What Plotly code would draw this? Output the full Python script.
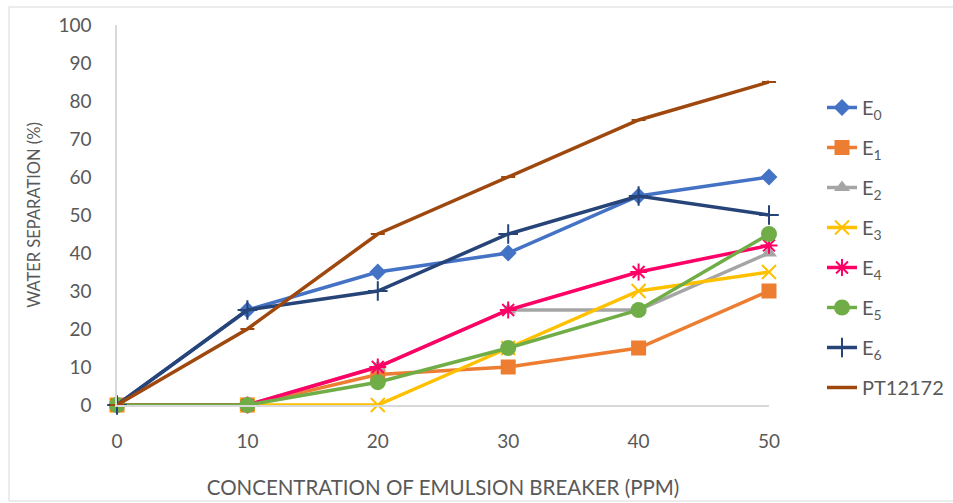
import plotly.graph_objects as go

conc = [0, 10, 20, 30, 40, 50]
names = ["E<sub>0</sub>", "E<sub>1</sub>", "E<sub>2</sub>", "E<sub>3</sub>", "E<sub>4</sub>",
         "E<sub>5</sub>", "E<sub>6</sub>", "PT12172"]
E0 = [0, 25, 35, 40, 55, 60]
E1 = [0, 0, 8, 10, 15, 30]
E2 = [0, 0, 10, 25, 25, 40]
E3 = [0, 0, 0, 15, 30, 35]
E4 = [0, 0, 10, 25, 35, 42]
E5 = [0, 0, 6, 15, 25, 45]
E6 = [0, 25, 30, 45, 55, 50]
PT = [0, 20, 45, 60, 75, 85]
series = [E0, E1, E2, E3, E4, E5, E6, PT]
x_ticks = [0, 10, 20, 30, 40, 50]
y_ticks = [0, 10, 20, 30, 40, 50, 60, 70, 80, 90, 100]

colors = ["#4472C4", "#ED7D31", "#A5A5A5", "#FFC000", "#FF0066", "#70AD47", "#264478", "#9E480E"]
symbols = ["diamond", "square", "triangle-up", "x-thin-open", "asterisk-open", "circle",
           "cross-thin-open", "line-ew-open"]
sizes = [13, 15, 14, 14, 14, 16, 14, 10]

fig = go.Figure()
for i, (name, ys, c, s, sz) in enumerate(zip(names, series, colors, symbols, sizes)):
    open_sym = s.endswith("open")
    fig.add_trace(go.Scatter(
        x=conc, y=ys, name=name, mode="lines+markers", legendgroup=f"g{i}",
        line=dict(color=c, width=3.5),
        marker=dict(symbol=s, size=sz, color=c,
                    line=dict(color=c, width=2 if open_sym else 0)),
        cliponaxis=False,
    ))

L, R, T, B = 117, 769, 25, 405
W, H = 953, 503
fig.update_layout(
    width=W, height=H,
    margin=dict(l=L, r=W - R, t=T, b=H - B, autoexpand=False),
    paper_bgcolor="white", plot_bgcolor="white",
    font=dict(family="Lato", color="#595959"),
    showlegend=True,
    legend=dict(x=(822 - L) / (R - L), y=(B - 88) / (B - T), xanchor="left", yanchor="top",
                font=dict(size=20, color="#595959"), tracegroupgap=11, itemwidth=30,
                bgcolor="rgba(0,0,0,0)"),
    xaxis=dict(range=[0, 50], tickvals=x_ticks, ticktext=[str(v) for v in x_ticks],
               showgrid=False, zeroline=False, showline=True, linecolor="#D9D9D9", linewidth=1.5,
               ticks="", tickfont=dict(size=19, color="#595959"), ticklabelstandoff=18,
               automargin=False,
               title=dict(text="CONCENTRATION OF EMULSION BREAKER (PPM)",
                          font=dict(size=20.5, color="#595959"), standoff=30)),
    yaxis=dict(range=[0, 100], tickvals=y_ticks, showgrid=False, zeroline=False,
               showline=True, linecolor="#D9D9D9", linewidth=1.5,
               ticks="", tickfont=dict(size=19, color="#595959"), ticklabelstandoff=20,
               automargin=False,
               title=dict(text="WATER SEPARATION (%)", font=dict(size=16.5, color="#595959"),
                          standoff=14)),
    shapes=[dict(type="rect", xref="paper", yref="paper",
                 x0=(9 - L) / (R - L), x1=(965 - L) / (R - L),
                 y0=(B - 501) / (B - T), y1=(B - 7) / (B - T),
                 line=dict(color="#D9D9D9", width=1), fillcolor="rgba(0,0,0,0)", layer="below")],
)
fig.write_html("out.html")
